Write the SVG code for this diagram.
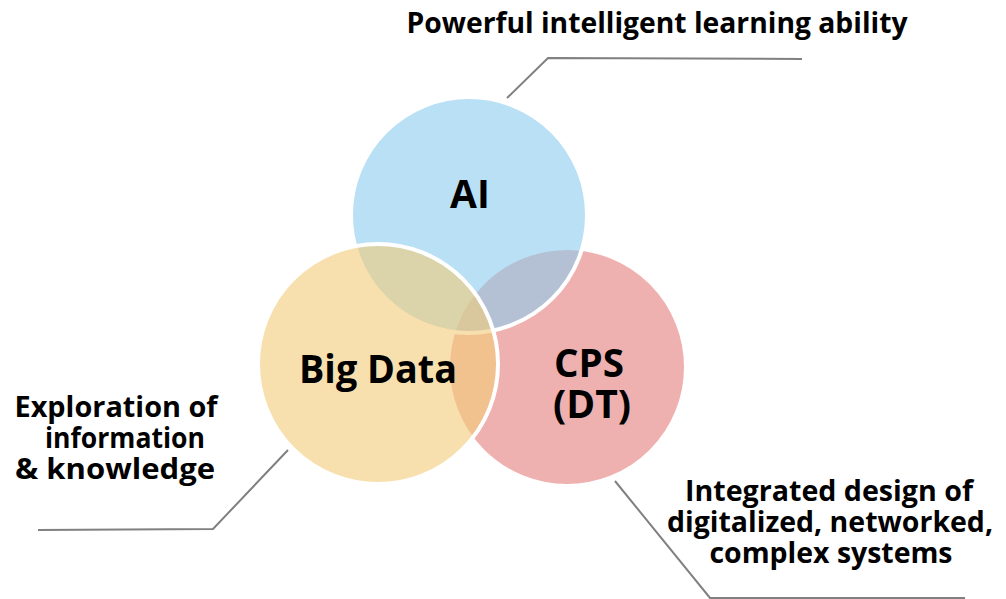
<svg xmlns="http://www.w3.org/2000/svg" width="1006" height="599" viewBox="0 0 1006 599">
  <style>
    .set { stroke: #ffffff; stroke-width: 4; fill-opacity: 0.6; }
    .lbl { font-family: "Open Sans", "Noto Sans", "Liberation Sans", sans-serif; font-weight: 700; fill: #000000; text-anchor: middle; }
    .big { font-size: 39px; }
    .note { font-size: 28px; }
    .lead { fill: none; stroke: #808080; stroke-width: 2; }
  </style>
  <rect width="1006" height="599" fill="#ffffff"/>

  <!-- leader lines from each circle to its description -->
  <g id="connectors">
    <polyline class="lead" points="507,98 548,58 802,59"/>
    <polyline class="lead" points="288,450 213,529 38,530"/>
    <polyline class="lead" points="615,481 710,598 965,598"/>
  </g>

  <g id="node-cps">
    <circle class="set" cx="567" cy="367" r="119" fill="#E47D7A"/>
    <text class="lbl big" x="589" y="377" textLength="70" lengthAdjust="spacingAndGlyphs">CPS</text>
    <text class="lbl big" x="592" y="418" textLength="78" lengthAdjust="spacingAndGlyphs">(DT)</text>
  </g>

  <g id="node-ai">
    <circle class="set" cx="469" cy="215" r="118" fill="#8CCBEE"/>
    <text class="lbl big" x="470" y="208">AI</text>
  </g>

  <g id="node-bigdata">
    <circle class="set" cx="378" cy="364" r="120" fill="#F2CB78"/>
    <text class="lbl big" x="378" y="383" textLength="158" lengthAdjust="spacingAndGlyphs">Big Data</text>
  </g>

  <g id="note-ai">
    <text class="lbl note" x="657" y="33" textLength="501" lengthAdjust="spacingAndGlyphs">Powerful intelligent learning ability</text>
  </g>

  <g id="note-bigdata">
    <text class="lbl note" x="116" y="417" textLength="203" lengthAdjust="spacingAndGlyphs">Exploration of</text>
    <text class="lbl note" x="125" y="448" textLength="160" lengthAdjust="spacingAndGlyphs">information</text>
    <text class="lbl note" x="115" y="479" textLength="200" lengthAdjust="spacingAndGlyphs">&amp; knowledge</text>
  </g>

  <g id="note-cps">
    <text class="lbl note" x="829" y="501" textLength="288" lengthAdjust="spacingAndGlyphs">Integrated design of</text>
    <text class="lbl note" x="830" y="532" textLength="326" lengthAdjust="spacingAndGlyphs">digitalized, networked,</text>
    <text class="lbl note" x="831" y="563" textLength="243" lengthAdjust="spacingAndGlyphs">complex systems</text>
  </g>
</svg>
